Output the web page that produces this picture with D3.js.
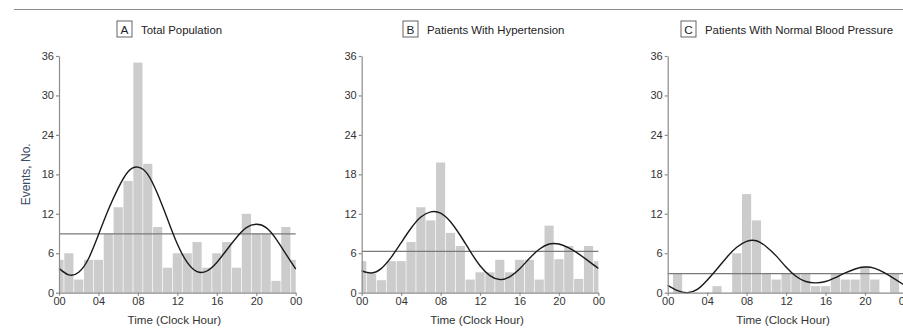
<html>
    <head>
        <style>
            body { margin: 0; background: #fff; }
            svg text { font-family: "Liberation Sans", Arial, sans-serif; }
            .axis path, .axis line { stroke: #8c8c8c; stroke-width: 1.2; }
            .axis text { fill: #333; font-size: 11px; }
        </style>
    </head>
    <body>
        <svg class="chart" width="903" height="334"></svg>
        <script src="https://d3js.org/d3.v7.min.js"></script>
        <script>
            // hourly event counts, hour 00..23
            var totalCounts  = [5, 6, 2, 5, 5, 9, 13, 17, 35, 19.6, 10, 3.8, 6, 6, 7.7, 3.8, 6, 7.7, 3.8, 12, 9, 9, 1.8, 10];
            var hyperCounts  = [4.8, 2.9, 1.9, 4.8, 4.8, 7.7, 13, 11, 19.8, 9.1, 7.1, 2, 3.1, 3.1, 5, 3.1, 5, 5, 2, 10.2, 5.1, 7.1, 2.1, 7.1];
            var normalCounts = [0, 3, 0, 0, 0, 1, 0, 6, 15, 11, 3, 2, 3, 3, 3, 1, 1, 3, 2, 2, 4, 2, 0, 3];

            // fitted curve read at each clock hour 00..24
            var totalFit  = [3.7, 2.7, 3.1, 5.2, 8.8, 12.6, 15.9, 18.4, 19.1, 18.0, 15.0, 11.2, 7.4, 4.6, 3.2, 3.3, 4.6, 6.5, 8.4, 9.9, 10.4, 9.9, 8.2, 5.9, 3.6];
            var hyperFit  = [3.3, 3.0, 3.7, 5.4, 7.6, 9.8, 11.5, 12.3, 12.1, 10.8, 8.7, 6.3, 4.1, 2.6, 2.0, 2.4, 3.6, 5.2, 6.6, 7.4, 7.4, 6.8, 5.9, 4.8, 3.7];
            var normalFit = [1.1, 0.3, 0.0, 0.5, 1.9, 3.6, 5.4, 6.9, 7.8, 7.9, 7.0, 5.6, 3.9, 2.5, 1.7, 1.5, 1.7, 2.3, 3.0, 3.6, 3.9, 3.7, 3.0, 2.1, 1.15];

            // mean level lines
            var means = [8.95, 6.3, 2.9];

            var panelLetters = ["A", "B", "C"];
            var panelTitles = ["Total Population", "Patients With Hypertension", "Patients With Normal Blood Pressure"];
            var yTicks = [0, 6, 12, 18, 24, 30, 36];
            var xTicks = [0, 4, 8, 12, 16, 20, 24];
            var xTickLabels = ["00", "04", "08", "12", "16", "20", "00"];

            var panels = [
                { counts: totalCounts, fit: totalFit, mean: means[0], left: 59, boxX: 117 },
                { counts: hyperCounts, fit: hyperFit, mean: means[1], left: 361.7, boxX: 403 },
                { counts: normalCounts, fit: normalFit, mean: means[2], left: 667.7, boxX: 681 }
            ];

            var plotW = 236.7, plotTop = 56, plotBottom = 292.7;
            var chart = d3.select('.chart');

            // figure rule
            chart.append('line')
                .attr('x1', 14).attr('x2', 903)
                .attr('y1', 9.5).attr('y2', 9.5)
                .style('stroke', '#8c8c8c').style('stroke-width', 1.2);

            panels.forEach(function(p, i) {
                var x = d3.scaleLinear().domain([0, 24]).range([p.left, p.left + plotW]);
                var y = d3.scaleLinear().domain([0, 36]).range([plotBottom, plotTop]);

                // bars centred on the hour, hour 00 wraps to both ends
                var bars = [];
                p.counts.forEach(function(v, h) {
                    bars.push({ x0: Math.max(0, h - 0.5), x1: h + 0.5, v: v });
                });
                bars.push({ x0: 23.5, x1: 24, v: p.counts[0] });

                chart.append('g').selectAll('rect')
                    .data(bars.filter(function(d) { return d.v > 0; }))
                    .enter().append('rect')
                    .attr('x', function(d) { return x(d.x0) + (d.x0 > 0 ? 0.35 : 0); })
                    .attr('width', function(d) { return x(d.x1) - x(d.x0) - (d.x0 > 0 ? 0.35 : 0) - (d.x1 < 24 ? 0.35 : 0); })
                    .attr('y', function(d) { return y(d.v); })
                    .attr('height', function(d) { return y(0) - y(d.v); })
                    .style('fill', '#cccccc');

                // mean line
                chart.append('line')
                    .attr('x1', x(0)).attr('x2', x(24))
                    .attr('y1', y(p.mean)).attr('y2', y(p.mean))
                    .style('stroke', '#7a7a7a').style('stroke-width', 1.3);

                // fitted curve
                var line = d3.line()
                    .x(function(d, h) { return x(h); })
                    .y(function(d) { return y(d); })
                    .curve(d3.curveNatural);
                chart.append('path')
                    .attr('d', line(p.fit))
                    .style('fill', 'none')
                    .style('stroke', '#1a1a1a')
                    .style('stroke-width', 1.4);

                // axes
                chart.append('g')
                    .attr('class', 'axis')
                    .attr('transform', 'translate(' + p.left + ',0)')
                    .call(d3.axisLeft(y).tickValues(yTicks).tickSize(3).tickSizeOuter(0).tickPadding(2));

                chart.append('g')
                    .attr('class', 'axis')
                    .attr('transform', 'translate(0,' + plotBottom + ')')
                    .call(d3.axisBottom(x).tickValues(xTicks).tickSize(3).tickSizeOuter(0).tickPadding(2)
                        .tickFormat(function(d, k) { return xTickLabels[k]; }));

                chart.append('text')
                    .attr('x', p.left + plotW / 2 - 3)
                    .attr('y', 324)
                    .attr('text-anchor', 'middle')
                    .style('font-size', '11.6px')
                    .style('fill', '#333')
                    .text('Time (Clock Hour)');

                // panel title
                var t = chart.append('g').attr('transform', 'translate(' + p.boxX + ',21)');
                t.append('rect')
                    .attr('width', 15).attr('height', 16)
                    .style('fill', 'none').style('stroke', '#555').style('stroke-width', 0.9);
                t.append('text')
                    .attr('x', 7.5).attr('y', 12.5)
                    .attr('text-anchor', 'middle')
                    .style('font-size', '11.8px').style('fill', '#222')
                    .text(panelLetters[i]);
                t.append('text')
                    .attr('x', 24).attr('y', 12.5)
                    .style('font-size', '11.4px').style('fill', '#222')
                    .text(panelTitles[i]);
            });

            chart.append('text')
                .attr('transform', 'translate(30,' + (plotTop + plotBottom) / 2 + ') rotate(-90)')
                .attr('text-anchor', 'middle')
                .style('font-size', '12px')
                .style('fill', '#3b4a66')
                .text('Events, No.');
        </script>
    </body>
</html>
